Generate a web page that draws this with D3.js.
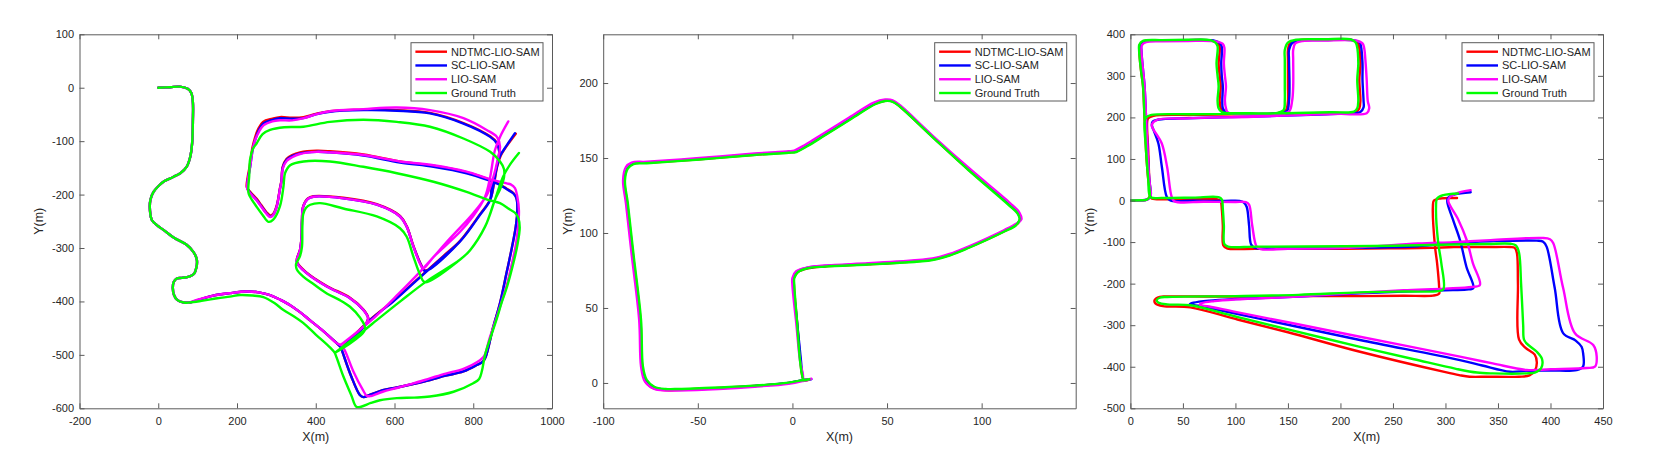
<!DOCTYPE html>
<html><head><meta charset="utf-8">
<script src="https://cdn.jsdelivr.net/npm/d3@7"></script>
<style>
body{margin:0;background:#fff}
text{font-family:"Liberation Sans",Arial,Helvetica,sans-serif}
</style>
</head><body>
<svg id="chart" width="1661" height="459"></svg>
<script>
// ---------------- DATA ----------------
const seriesNames = ["NDTMC-LIO-SAM", "SC-LIO-SAM", "LIO-SAM", "Ground Truth"];
const seriesColors = ["#ff0000", "#0000ff", "#ff00ff", "#00ff00"];

const p1XTicks = [-200, 0, 200, 400, 600, 800, 1000];
const p1YTicks = [-600, -500, -400, -300, -200, -100, 0, 100];
const p2XTicks = [-100, -50, 0, 50, 100];
const p2YTicks = [0, 50, 100, 150, 200];
const p3XTicks = [0, 50, 100, 150, 200, 250, 300, 350, 400, 450];
const p3YTicks = [-500, -400, -300, -200, -100, 0, 100, 200, 300, 400];

// Panel 1: shared start (all series overlap)
const p1Start = [[0,0],[30,1],[55,2],[75,-2],[84,-10],[88,-28],[88,-60],[86,-104],[81,-130],[72,-148],[56,-160],[38,-167],[15,-175],[2,-183],[-12,-195],[-20,-210],[-21,-230],[-16,-248],[-2,-258],[13,-266],[40,-281],[72,-294],[90,-308],[98,-322],[97,-336],[91,-348],[80,-353],[60,-356],[47,-357],[39,-364],[37,-375],[40,-388],[48,-397],[65,-402],[80,-402]];

const p1Green = [...p1Start,
 [110,-399],[150,-394],[182,-391],[208,-388],[240,-389],[267,-392],[295,-403],[318,-416],[345,-428],[368,-440],[400,-462],[436,-486],[448,-496],
 [453,-505],[470,-540],[490,-575],[503,-597],[515,-597],[540,-590],[563,-585],[606,-581],[650,-580],[690,-578],[750,-569],[800,-553],[815,-545],[822,-530],[830,-500],[845,-465],[859,-434],[873,-400],[886,-372],[904,-322],[912,-295],[918,-262],[915,-245],[906,-234],[893,-228],[868,-216],[838,-210],[783,-195],[699,-176],[606,-160],[521,-148],[436,-138],[369,-138],[335,-145],[322,-160],[318,-185],[309,-222],[292,-247],[280,-251],[265,-238],[250,-223],[234,-205],[229,-196],[231,-165],[233,-135],[240,-115],[250,-104],[265,-87],[284,-79],[320,-74],[369,-73],[436,-64],[521,-60],[606,-64],[690,-73],[775,-95],[843,-120],[868,-138],[878,-152],[878,-168],
 [868,-190],[855,-210],[830,-260],[792,-304],[766,-322],[682,-362],[618,-398],[555,-435],[525,-453],[449,-496],[525,-453],
 [512,-430],[487,-410],[460,-397],[428,-385],[395,-368],[369,-354],[352,-340],[350,-330],[360,-315],[365,-298],[366,-260],[368,-237],[375,-225],[386,-219],[411,-216],[470,-226],[555,-241],[614,-263],[631,-279],[648,-316],[665,-350],[677,-364],
 [766,-322],[792,-304],[830,-260],[855,-210],[876,-166],[895,-142],[916,-122]];

const p1Blue = [...p1Start,
 [98,-398],[140,-389],[182,-384.5],[225,-381.5],[255,-383],[284,-388],[310,-397],[335,-407],[360,-420],[385,-435],[420,-456],[453,-478],[463,-485],
 [468,-495],[490,-540],[512,-575],[521,-579],[540,-574],[570,-566],[606,-561],[650,-554],[690,-547],[730,-539],[775,-531],[809,-519],[825,-512],[832,-503],[850,-450],[868,-403],[885,-345],[898,-300],[908,-260],[912,-230],[910,-208],[902,-198],[885,-190],[868,-182],[838,-173],[783,-160],[699,-148],[614,-140],[521,-127],[436,-121],[402,-120],[360,-123],[340,-128],[326,-135],[316,-150],[313,-175],[309,-190],[301,-222],[292,-238],[284,-241],[275,-235],[262,-222],[250,-210],[235,-198],[226,-188],[228,-170],[233,-150],[240,-115],[246,-98],[255,-80],[267,-67],[290,-60],[309,-57],[340,-58],[369,-57],[400,-50],[436,-45],[521,-42],[606,-43],[690,-48],[775,-67],[843,-92],[860,-104],[866,-120],
 [862,-140],[855,-165],[847,-185],[843,-210],[815,-240],[766,-288],[724,-316],[657,-360],[600,-398],[538,-435],[466,-488],[528,-442],
 [533,-431],[521,-416],[487,-394],[428,-372],[377,-347],[352,-326],[360,-304],[364,-280],[365,-248],[368,-223],[380,-208],[394,-204],[470,-207],[555,-219],[614,-241],[631,-260],[648,-297],[668,-333],[677,-343],
 [766,-288],[815,-240],[843,-210],[852,-180],[860,-148],[868,-128],[885,-108],[906,-85]];

const p1Red = [...p1Start,
 [98,-398],[140,-389],[182,-384.5],[225,-381.5],[255,-383],[284,-388],[310,-397],[335,-407],[360,-420],[385,-435],[420,-456],[453,-478],[463,-485],
 [468,-495],[490,-540],[512,-575],[521,-579],[540,-574],[570,-566],[606,-561],[650,-554],[690,-547],[730,-539],[775,-531],[809,-519],[825,-512],[832,-503],[850,-450],[868,-403],[885,-345],[898,-300],[908,-260],[912,-230],[910,-207],[902,-197],[885,-189],[868,-181],[838,-171],[783,-158],[699,-146],[614,-138],[521,-125],[436,-119],[402,-118],[360,-121],[340,-126],[326,-133],[316,-148],[313,-173],[309,-188],[301,-220],[292,-236],[284,-239],[275,-233],[262,-220],[250,-208],[235,-196],[225,-186],[227,-168],[232,-148],[239,-113],[245,-95],[254,-77],[266,-64],[290,-58],[309,-55],[340,-56],[369,-55],[400,-49],[436,-44],[521,-41],[606,-42],[690,-47],[775,-66],[843,-91],[860,-103],[866,-119],
 [862,-139],[855,-164],[847,-184],[843,-209],[815,-239],[766,-287],[724,-315],[657,-359],[600,-397],[538,-434],[466,-487],[528,-441],
 [533,-430],[521,-415],[487,-393],[428,-371],[377,-346],[352,-325],[360,-303],[364,-279],[365,-247],[368,-222],[380,-207],[394,-203],[470,-206],[555,-218],[614,-240],[631,-259],[648,-296],[668,-332],[677,-342],
 [766,-287],[815,-239],[843,-209],[853,-179],[861,-147],[870,-127],[887,-107],[908,-86]];

const p1Magenta = [...p1Start,
 [98,-397],[140,-389],[182,-384.5],[225,-381.5],[255,-383],[284,-388],[310,-397],[335,-407],[360,-420],[385,-435],[420,-456],[453,-478],[466,-483],
 [474,-492],[495,-530],[520,-566],[530,-577],[540,-577],[570,-569],[606,-562],[650,-553],[690,-544],[730,-535],[775,-526],[817,-510],[828,-502],[841,-470],[855,-440],[868,-410],[885,-370],[898,-330],[908,-295],[914,-260],[916,-230],[912,-204],[906,-188],[895,-181],[885,-179],[838,-170],[783,-157],[699,-145],[614,-138],[521,-126],[436,-121],[402,-120],[360,-124],[340,-130],[326,-137],[316,-152],[313,-175],[309,-190],[301,-222],[292,-238],[284,-242],[275,-236],[262,-223],[250,-211],[235,-199],[226,-189],[228,-170],[233,-150],[240,-115],[246,-98],[256,-82],[268,-70],[290,-63],[309,-61],[340,-61],[369,-57],[400,-50],[436,-44],[521,-40],[606,-37],[690,-42],[775,-57],[834,-79],[860,-92],[868,-110],
 [862,-135],[850,-170],[835,-200],[800,-235],[741,-282],[673,-338],[610,-386],[540,-436],[462,-482],[525,-444],
 [533,-432],[521,-416],[487,-394],[428,-372],[377,-347],[352,-326],[360,-304],[364,-280],[365,-248],[368,-223],[380,-208],[394,-204],[470,-207],[555,-219],[614,-241],[631,-260],[648,-297],[664,-328],[673,-338],
 [700,-316],[766,-270],[800,-240],[830,-204],[843,-167],[855,-117],[868,-92],[889,-63]];

// Panel 2
const p2Green = [[9,2.5],[6,2],[5,6],[4,15],[2.5,40],[1,65],[1,70],[3,74],[8,76.5],[17,77.6],[40,79],[55,80],[74,82],[83,85],[93,90],[102,95],[112,101],[118,105],[120,109],[119,113],[114,119],[93,142],[74,164],[57,184],[53,187.5],[49,188],[44,186],[31,176],[17,165],[8,158],[2,154],[-2,153.5],[-20,152],[-49,149],[-77,146.5],[-84,146],[-87,143],[-88.5,135],[-87,120],[-84,86],[-80,42],[-79,11],[-77,2],[-73,-2.5],[-67,-4],[-60,-4],[-39,-3],[-20,-1.8],[-2,0.2],[6,2],[9,2.5]];
const p2Magenta = [[10,2.8],[6,2.5],[5.5,6],[4,15],[2,40],[0,65],[0,70],[2,74.5],[8,77],[17,78.3],[40,79.8],[55,81],[74,83],[83,86],[93,91],[102,96],[112,102],[118,106],[121,109],[120,113.5],[115,120],[94,142.5],[74,165],[57,185],[53,188.5],[49,189],[43,187],[30,177],[16,166],[7,159],[1,155],[-2,154.5],[-20,153],[-49,150],[-77,147.5],[-85,147],[-88,144],[-89.5,135],[-88,120],[-85,86],[-81,42],[-80,11],[-78,1],[-73,-4],[-67,-5],[-60,-5],[-39,-4],[-20,-2.5],[-2,-0.5],[6,1.5],[10,2.8]];
const p2Blue = [[10,2.5],[6,2.2],[5.2,6],[4.5,15],[2.5,40],[0.5,65],[0.5,70],[2.5,74.2],[8,76.8],[17,78],[40,79.4],[55,80.5],[74,82.5],[83,85.5],[93,90.5],[102,95.5],[112,101.5],[118,105.5],[120.5,109],[119.5,113],[114.5,119.5],[93.5,142],[74,164.5],[57,184.5],[53,188],[49,188.5],[43.5,186.5],[30.5,176.5],[16.5,165.5],[7.5,158.5],[1.5,154.5],[-2,154],[-20,152.5],[-49,149.5],[-77,147],[-84.5,146.5],[-87.5,143.5],[-89,135],[-87.5,120],[-84.5,86],[-80.5,42],[-79.5,11],[-77.5,1.5],[-73,-3],[-67,-4.5],[-60,-4.5],[-39,-3.5],[-20,-2],[-2,0],[6,2],[10,2.5]];
const p2Red = [[9,2.2],[6,1.8],[5,6],[4.2,15],[2.5,40],[0.8,65],[0.8,70],[2.8,74],[8,76.4],[17,77.7],[40,79.1],[55,80.2],[74,82.2],[83,85.2],[93,90.2],[102,95.2],[112,101.2],[118,105.2],[120.3,109],[119.3,113],[114.3,119.3],[93.3,142],[74,164.2],[57,184.2],[53,187.8],[49,188.2],[43.8,186.2],[30.8,176.2],[16.8,165.2],[7.8,158.2],[1.8,154.2],[-2,153.8],[-20,152.2],[-49,149.2],[-77,146.8],[-84.3,146.3],[-87.3,143.3],[-88.8,135],[-87.3,120],[-84.3,86],[-80.3,42],[-79.3,10],[-77.5,0.5],[-73.5,-3.5],[-67,-4.8],[-60,-4.6],[-39,-3.3],[-20,-2],[-2,0],[6,1.8],[9,2.2]];

// Panel 3
const p3Green = [[0,0],[10,0.5],[15,1.5],[18,8],[18.5,18],[17,50],[15,115],[13.5,195],[12,275],[10,315],[8.3,360],[8.5,375],[12,384],[30,386],[55,387],[76,386],[81,380],[83,371],[82,330],[83,300],[84,275],[83,240],[84,222],[87,213],
 [110,210],[140,211],[146,218],[147,240],[147,274],[147,340],[147,362],[150,380],[158,387],[185,388],[209,388],[214,382],[215.5,374],[217,330],[216,290],[217,240],[216,222],[213,214],
 [190,212.5],[148,210],[100,209],[60,207.5],[20,206],[15,200],[13.5,190],[15,120],[17,50],[18,15],[20,7],[30,6],[60,7],[84,8],[87,3],[88,-20],[89,-60],[89.5,-105],[93,-111],[120,-111],[204,-110],[250,-109],[308,-106],[340,-104.5],[362,-104],[367,-108],[370,-125],[372,-200],[374,-300],[375,-336],[380,-350],[387,-364],[392,-382],[391,-404],[385,-414],[377,-416],[345,-416],[330,-414],[310,-405],[270,-382],[218.6,-352],[150,-310],[100,-279],[57,-252],[35,-250],[27,-246],[25,-240],[28,-234],[35,-232],[100,-230],[160,-227],[218,-221],[260,-219],[293,-218],[298,-214],[296,-150],[293,-100],[291,-15],[292,5],[298,13],[312,17]];

const p3Red = [[0,0],[10,0.5],[15,1.5],[18,8],[18.5,18],[17,50],[15,115],[13.5,195],[12,275],[10,315],[8.5,360],[9,375],[13,383],[30,385],[55,386],[77,385],[83,379],[85,370],[84,330],[85,300],[86,275],[85,240],[86,222],[89,213],
 [110,209],[140,210],[148,217],[150,240],[150,274],[150,340],[150,362],[152,379],[160,386],[185,387],[210,387],[216,381],[217.5,372],[219,330],[218,290],[219,240],[218,222],[215,213],
 [190,211],[148,209],[100,207.5],[60,206],[22,204],[17,198],[16,190],[17,120],[18,50],[19,15],[20,5],[30,3],[60,3],[83,3],[86,-2],[87,-20],[88,-60],[88.5,-108],[92,-115],[120,-116],[204,-116],[250,-115],[286,-114],[308,-112],[340,-112],[362,-112],[366,-114],[368,-126],[369,-200],[370,-334],[376,-354],[385,-371],[387,-390],[385,-410],[380,-421],[370,-424],[340,-424],[323,-424],[313,-420],[300,-413],[218.6,-364],[150,-317],[100,-285],[57,-257],[31,-254],[24,-248],[23,-240],[28,-232],[35,-231],[100,-231],[160,-230],[218,-230],[260,-229],[288,-229],[294,-224],[294,-210],[292,-150],[290,-110],[288,-15],[289,0],[295,5],[311,6]];

const p3Blue = [[0,0],[10,0.5],[16,2],[19,9],[19.5,18],[18,50],[16.5,115],[15,195],[13.5,275],[12,315],[10.5,360],[10.5,375],[14,383],[30,385],[55,386],[79,385],[85,379],[87,370],[86.5,330],[87,300],[88,275],[87.5,240],[88,222],[91,212],
 [110,209],[140,210],[149,215],[151,240],[151.5,274],[151,340],[151,362],[154,379],[162,385],[185,386],[212,386],[218,381],[219.5,372],[221,330],[221,290],[222,240],[222,224],[219,213],
 [200,209],[180.5,207],[117,202],[54,198],[27,195],[21,189],[20.5,180],[22,170],[26.6,138],[30,80],[34.6,9],[38,0],[60,-0.5],[90,-1],[104,-1],[108,-5],[110.7,-15],[113,-60],[115,-106],[119,-114],[150,-115],[204,-114],[273.6,-110],[308,-102],[343,-98],[386.8,-96.6],[393,-99],[396.3,-111],[404,-210],[412,-319],[424,-337],[429.6,-352],[431.2,-370],[431,-400],[424.9,-407.8],[400,-409],[377,-410],[361.4,-412],[335,-397],[313.8,-384],[218.6,-335.6],[150,-299],[100,-272],[70,-256],[60,-251],[56.7,-249],[60,-246],[75,-241],[100,-237],[160,-231],[218.6,-223],[260,-219],[300,-216],[320,-214],[326.5,-211],[320,-160],[313.8,-95],[307,-45],[301.7,-1.3],[303,8],[309,15],[324,20]];

const p3Magenta = [[0,0],[10,0.5],[16,2],[19,9],[19.5,18],[18,50],[16.5,115],[15,195],[13.5,275],[12,315],[10.5,360],[11,374],[15,381],[30,383],[55,384],[81,383],[88,377],[89.5,368],[89,330],[90,300],[91,275],[90,240],[91,222],[93,211],
 [110,208],[140,209],[151,214],[154,240],[155,274],[155,340],[155,362],[157,378],[164,384],[185,385],[214,385],[221,378],[222.5,368],[224,330],[225,290],[226,240],[227.4,222],[225,210],
 [200,208.5],[180.5,207.5],[117,201.7],[53.6,197.8],[25,193.8],[20.3,181.7],[21.8,171.7],[29.8,137.7],[35,80],[39.3,9],[42,-2],[70,-3],[100,-3.5],[110,-4],[113,-10],[116,-60],[120.2,-111],[124,-117],[150,-116],[204,-114],[273.6,-103.4],[308,-100],[343,-95.4],[391.5,-90],[399.5,-93],[402.7,-103],[412,-210],[423.3,-319.5],[440.7,-347.7],[444,-375.8],[442.3,-399.8],[434.4,-403],[400,-406],[377.3,-407.8],[345,-392],[313.8,-375.8],[218.6,-327.7],[150,-293],[100,-268],[75,-255],[66,-251],[68,-247],[80,-242],[100,-238],[160,-231],[218.6,-222],[260,-216],[300,-212],[325,-208],[332.8,-203.3],[326,-150],[320.2,-95],[312,-45],[302.7,-1.3],[304,8],[311,18],[324,25]];

// ---------------- LAYOUT ----------------
const TOP = 34.3, BOTTOM = 408.3;
const panels = [
  {x0: 79.5, x1: 552.0, xDomain: [-200, 1000], yDomain: [-600, 100], xTicks: p1XTicks, yTicks: p1YTicks,
   series: [p1Red, p1Blue, p1Magenta, p1Green], ylabOff: 40.2},
  {x0: 603.2, x1: 1075.7, xDomain: [-100, 149.7], yDomain: [-16.9, 232.5], xTicks: p2XTicks, yTicks: p2YTicks,
   series: [p2Red, p2Blue, p2Magenta, p2Green], ylabOff: 35.3},
  {x0: 1130.4, x1: 1603.0, xDomain: [0, 450], yDomain: [-500, 400], xTicks: p3XTicks, yTicks: p3YTicks,
   series: [p3Red, p3Blue, p3Magenta, p3Green], ylabOff: 40.2}
];

const svg = d3.select("#chart");
const axisColor = "#262626";
const boxColor = "#5a5a5a";
const lineW = 2.4;
const tickLen = 5;

panels.forEach(p => {
  const x = d3.scaleLinear().domain(p.xDomain).range([p.x0, p.x1]);
  const y = d3.scaleLinear().domain(p.yDomain).range([BOTTOM, TOP]);
  const g = svg.append("g");

  g.append("rect").attr("x", p.x0).attr("y", TOP).attr("width", p.x1 - p.x0).attr("height", BOTTOM - TOP).attr("fill", "#fff");

  const clipId = "clip" + p.x0.toFixed(0);
  svg.append("clipPath").attr("id", clipId).append("rect")
    .attr("x", p.x0).attr("y", TOP).attr("width", p.x1 - p.x0).attr("height", BOTTOM - TOP);

  const line = d3.line().x(d => x(d[0])).y(d => y(d[1])).curve(d3.curveCatmullRom.alpha(0.5));
  const lg = g.append("g").attr("clip-path", `url(#${clipId})`);
  p.series.forEach((s, i) => {
    lg.append("path").datum(s).attr("d", line)
      .attr("fill", "none").attr("stroke", seriesColors[i]).attr("stroke-width", lineW)
      .attr("stroke-linejoin", "round").attr("stroke-linecap", "round");
  });

  // axes (ASCII hyphen for negatives, like the reference)
  const fmt = d => String(d);
  const styleAxis = sel => {
    sel.attr("color", axisColor).style("font-size", "11px").style("font-family", '"Liberation Sans", Arial, Helvetica, sans-serif');
    sel.select(".domain").attr("stroke", boxColor).attr("stroke-width", 1);
    sel.selectAll(".tick line").attr("stroke", boxColor).attr("stroke-width", 1);
  };
  g.append("g").attr("transform", `translate(0,${BOTTOM})`)
    .call(d3.axisBottom(x).tickValues(p.xTicks).tickFormat(fmt).tickSizeInner(-tickLen).tickSizeOuter(0).tickPadding(8.7))
    .call(styleAxis);
  g.append("g").attr("transform", `translate(0,${TOP})`)
    .call(d3.axisTop(x).tickValues(p.xTicks).tickFormat("").tickSizeInner(-tickLen).tickSizeOuter(0))
    .call(styleAxis);
  g.append("g").attr("transform", `translate(${p.x0},0)`)
    .call(d3.axisLeft(y).tickValues(p.yTicks).tickFormat(fmt).tickSizeInner(-tickLen).tickSizeOuter(0).tickPadding(5.4))
    .call(styleAxis);
  g.append("g").attr("transform", `translate(${p.x1},0)`)
    .call(d3.axisRight(y).tickValues(p.yTicks).tickFormat("").tickSizeInner(-tickLen).tickSizeOuter(0))
    .call(styleAxis);
  g.selectAll(".tick text").attr("fill", axisColor);

  // axis labels
  g.append("text").attr("x", (p.x0 + p.x1) / 2).attr("y", 441).attr("text-anchor", "middle")
    .attr("font-size", "12.5px").attr("fill", axisColor).text("X(m)");
  g.append("text").attr("transform", `translate(${p.x0 - p.ylabOff},${(TOP + BOTTOM) / 2}) rotate(-90)`)
    .attr("text-anchor", "middle").attr("dy", "0.3em")
    .attr("font-size", "12.5px").attr("fill", axisColor).text("Y(m)");

  // legend
  const lx0 = p.x1 - 141, lx1 = p.x1 - 9, ly0 = 42.7, ly1 = 101;
  const leg = g.append("g");
  leg.append("rect").attr("x", lx0).attr("y", ly0).attr("width", lx1 - lx0).attr("height", ly1 - ly0)
    .attr("fill", "#fff").attr("stroke", boxColor).attr("stroke-width", 1);
  seriesNames.forEach((name, i) => {
    const yy = 51.7 + i * 13.77;
    leg.append("line").attr("x1", lx0 + 4.4).attr("x2", lx0 + 36).attr("y1", yy).attr("y2", yy)
      .attr("stroke", seriesColors[i]).attr("stroke-width", lineW);
    leg.append("text").attr("x", lx0 + 40).attr("y", yy).attr("dy", "0.35em")
      .attr("font-size", "11px").attr("fill", axisColor).text(name);
  });
});
</script>
</body></html>
